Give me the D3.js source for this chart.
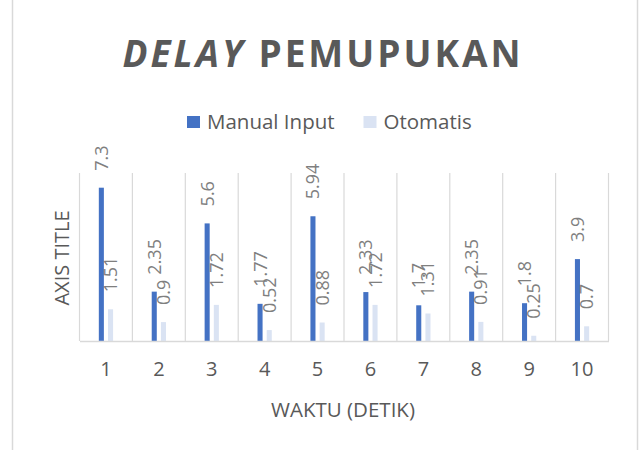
<!DOCTYPE html>
<html>
<head>
<meta charset="utf-8">
<script src="https://cdn.jsdelivr.net/npm/d3@7"></script>
<style>
  html, body { margin: 0; padding: 0; background: white; }
  text { font-family: "Open Sans", Lato, sans-serif; }
</style>
</head>
<body>
<div id="chart"></div>
<script>
// data
var categories = ["1", "2", "3", "4", "5", "6", "7", "8", "9", "10"];
var seriesNames = ["Manual Input", "Otomatis"];
var manualInput = [7.3, 2.35, 5.6, 1.77, 5.94, 2.33, 1.7, 2.35, 1.8, 3.9];
var otomatis = [1.51, 0.9, 1.72, 0.52, 0.88, 1.72, 1.31, 0.91, 0.25, 0.7];
var labelText = [
  ["7.3", "2.35", "5.6", "1.77", "5.94", "2.33", "1.7", "2.35", "1.8", "3.9"],
  ["1.51", "0.9", "1.72", "0.52", "0.88", "1.72", "1.31", "0.91", "0.25", "0.7"]
];
var colors = ["#4472C4", "#DAE3F3"];

var width = 640, height = 450;
var margin = {left: 79.5, right: 640 - 608.5, top: 173, bottom: 450 - 341};
var textGray = "#595959", gridGray = "#d9d9d9";

var svg = d3.select("#chart").append("svg")
  .attr("width", width).attr("height", height)
  .style("background", "white");

// chart area border (only left and right edges are visible)
svg.append("line").attr("x1", 12.5).attr("x2", 12.5).attr("y1", 0).attr("y2", height)
  .attr("stroke", gridGray).attr("stroke-width", 1.5);
svg.append("line").attr("x1", 637.5).attr("x2", 637.5).attr("y1", 0).attr("y2", height)
  .attr("stroke", gridGray).attr("stroke-width", 1.5);

var x = d3.scaleBand().domain(categories)
  .range([margin.left, width - margin.right]).paddingInner(0).paddingOuter(0);
var xInner = d3.scaleBand().domain([0, 1])
  .range([0, x.bandwidth()]).paddingInner(0.45).paddingOuter(2.1);
var y = d3.scaleLinear().domain([0, 8]).range([height - margin.bottom, margin.top]);

// vertical gridlines between categories
var bounds = categories.map(function (c) { return x(c); }).concat([x.range()[1]]);
svg.append("g").selectAll("line").data(bounds).enter().append("line")
  .attr("x1", function (d) { return d; }).attr("x2", function (d) { return d; })
  .attr("y1", y(8)).attr("y2", y(0))
  .attr("stroke", gridGray).attr("stroke-width", 1.2);

// bars
var rows = categories.map(function (c, i) {
  return [
    {cat: c, s: 0, value: manualInput[i], label: labelText[0][i]},
    {cat: c, s: 1, value: otomatis[i], label: labelText[1][i]}
  ];
});

var groups = svg.append("g").selectAll("g").data(rows).enter().append("g")
  .attr("transform", function (d) { return "translate(" + x(d[0].cat) + ",0)"; });

groups.selectAll("rect").data(function (d) { return d; }).enter().append("rect")
  .attr("x", function (d) { return xInner(d.s); })
  .attr("width", xInner.bandwidth())
  .attr("y", function (d) { return y(d.value); })
  .attr("height", function (d) { return y(0) - y(d.value); })
  .attr("fill", function (d) { return colors[d.s]; });

// rotated data labels
groups.selectAll("text").data(function (d) { return d; }).enter().append("text")
  .attr("transform", function (d) {
    var cx = xInner(d.s) + xInner.bandwidth() / 2;
    return "translate(" + cx + "," + (y(d.value) - 17) + ") rotate(-90)";
  })
  .attr("dy", "0.36em")
  .attr("text-anchor", "start")
  .attr("fill", "#7f7f7f")
  .style("font-size", "18px")
  .text(function (d) { return d.label; });

// x axis
var xAxis = svg.append("g")
  .attr("transform", "translate(0," + y(0) + ")")
  .call(d3.axisBottom(x).tickSize(0).tickPadding(21));
xAxis.select(".domain").attr("stroke", gridGray).attr("stroke-width", 1.5);
xAxis.selectAll("text").attr("fill", textGray)
  .style("font-size", "20px").style("font-family", "'Open Sans', sans-serif");

// axis titles
svg.append("text").attr("x", 343).attr("y", 417)
  .attr("text-anchor", "middle").attr("fill", textGray)
  .style("font-size", "20.5px").text("WAKTU (DETIK)");
svg.append("text")
  .attr("transform", "translate(69,258) rotate(-90)")
  .attr("text-anchor", "middle").attr("fill", textGray)
  .style("font-size", "20px").text("AXIS TITLE");

// title
var title = svg.append("text").attr("x", 323).attr("y", 66.5)
  .attr("text-anchor", "middle").attr("fill", textGray)
  .style("font-size", "37px").style("font-weight", "700")
  .style("letter-spacing", "3px");
title.append("tspan").style("font-style", "italic").text("DELAY");
title.append("tspan").text(" PEMUPUKAN");

// legend
var legendItems = [
  {name: seriesNames[0], color: colors[0], x: 187},
  {name: seriesNames[1], color: colors[1], x: 363.5}
];
var legend = svg.append("g").selectAll("g").data(legendItems).enter().append("g")
  .attr("transform", function (d) { return "translate(" + d.x + ",116)"; });
legend.append("rect").attr("width", 13).attr("height", 12)
  .attr("fill", function (d) { return d.color; });
legend.append("text").attr("x", 20).attr("y", 12.5)
  .attr("fill", textGray).style("font-size", "20.5px")
  .text(function (d) { return d.name; });
</script>
</body>
</html>
